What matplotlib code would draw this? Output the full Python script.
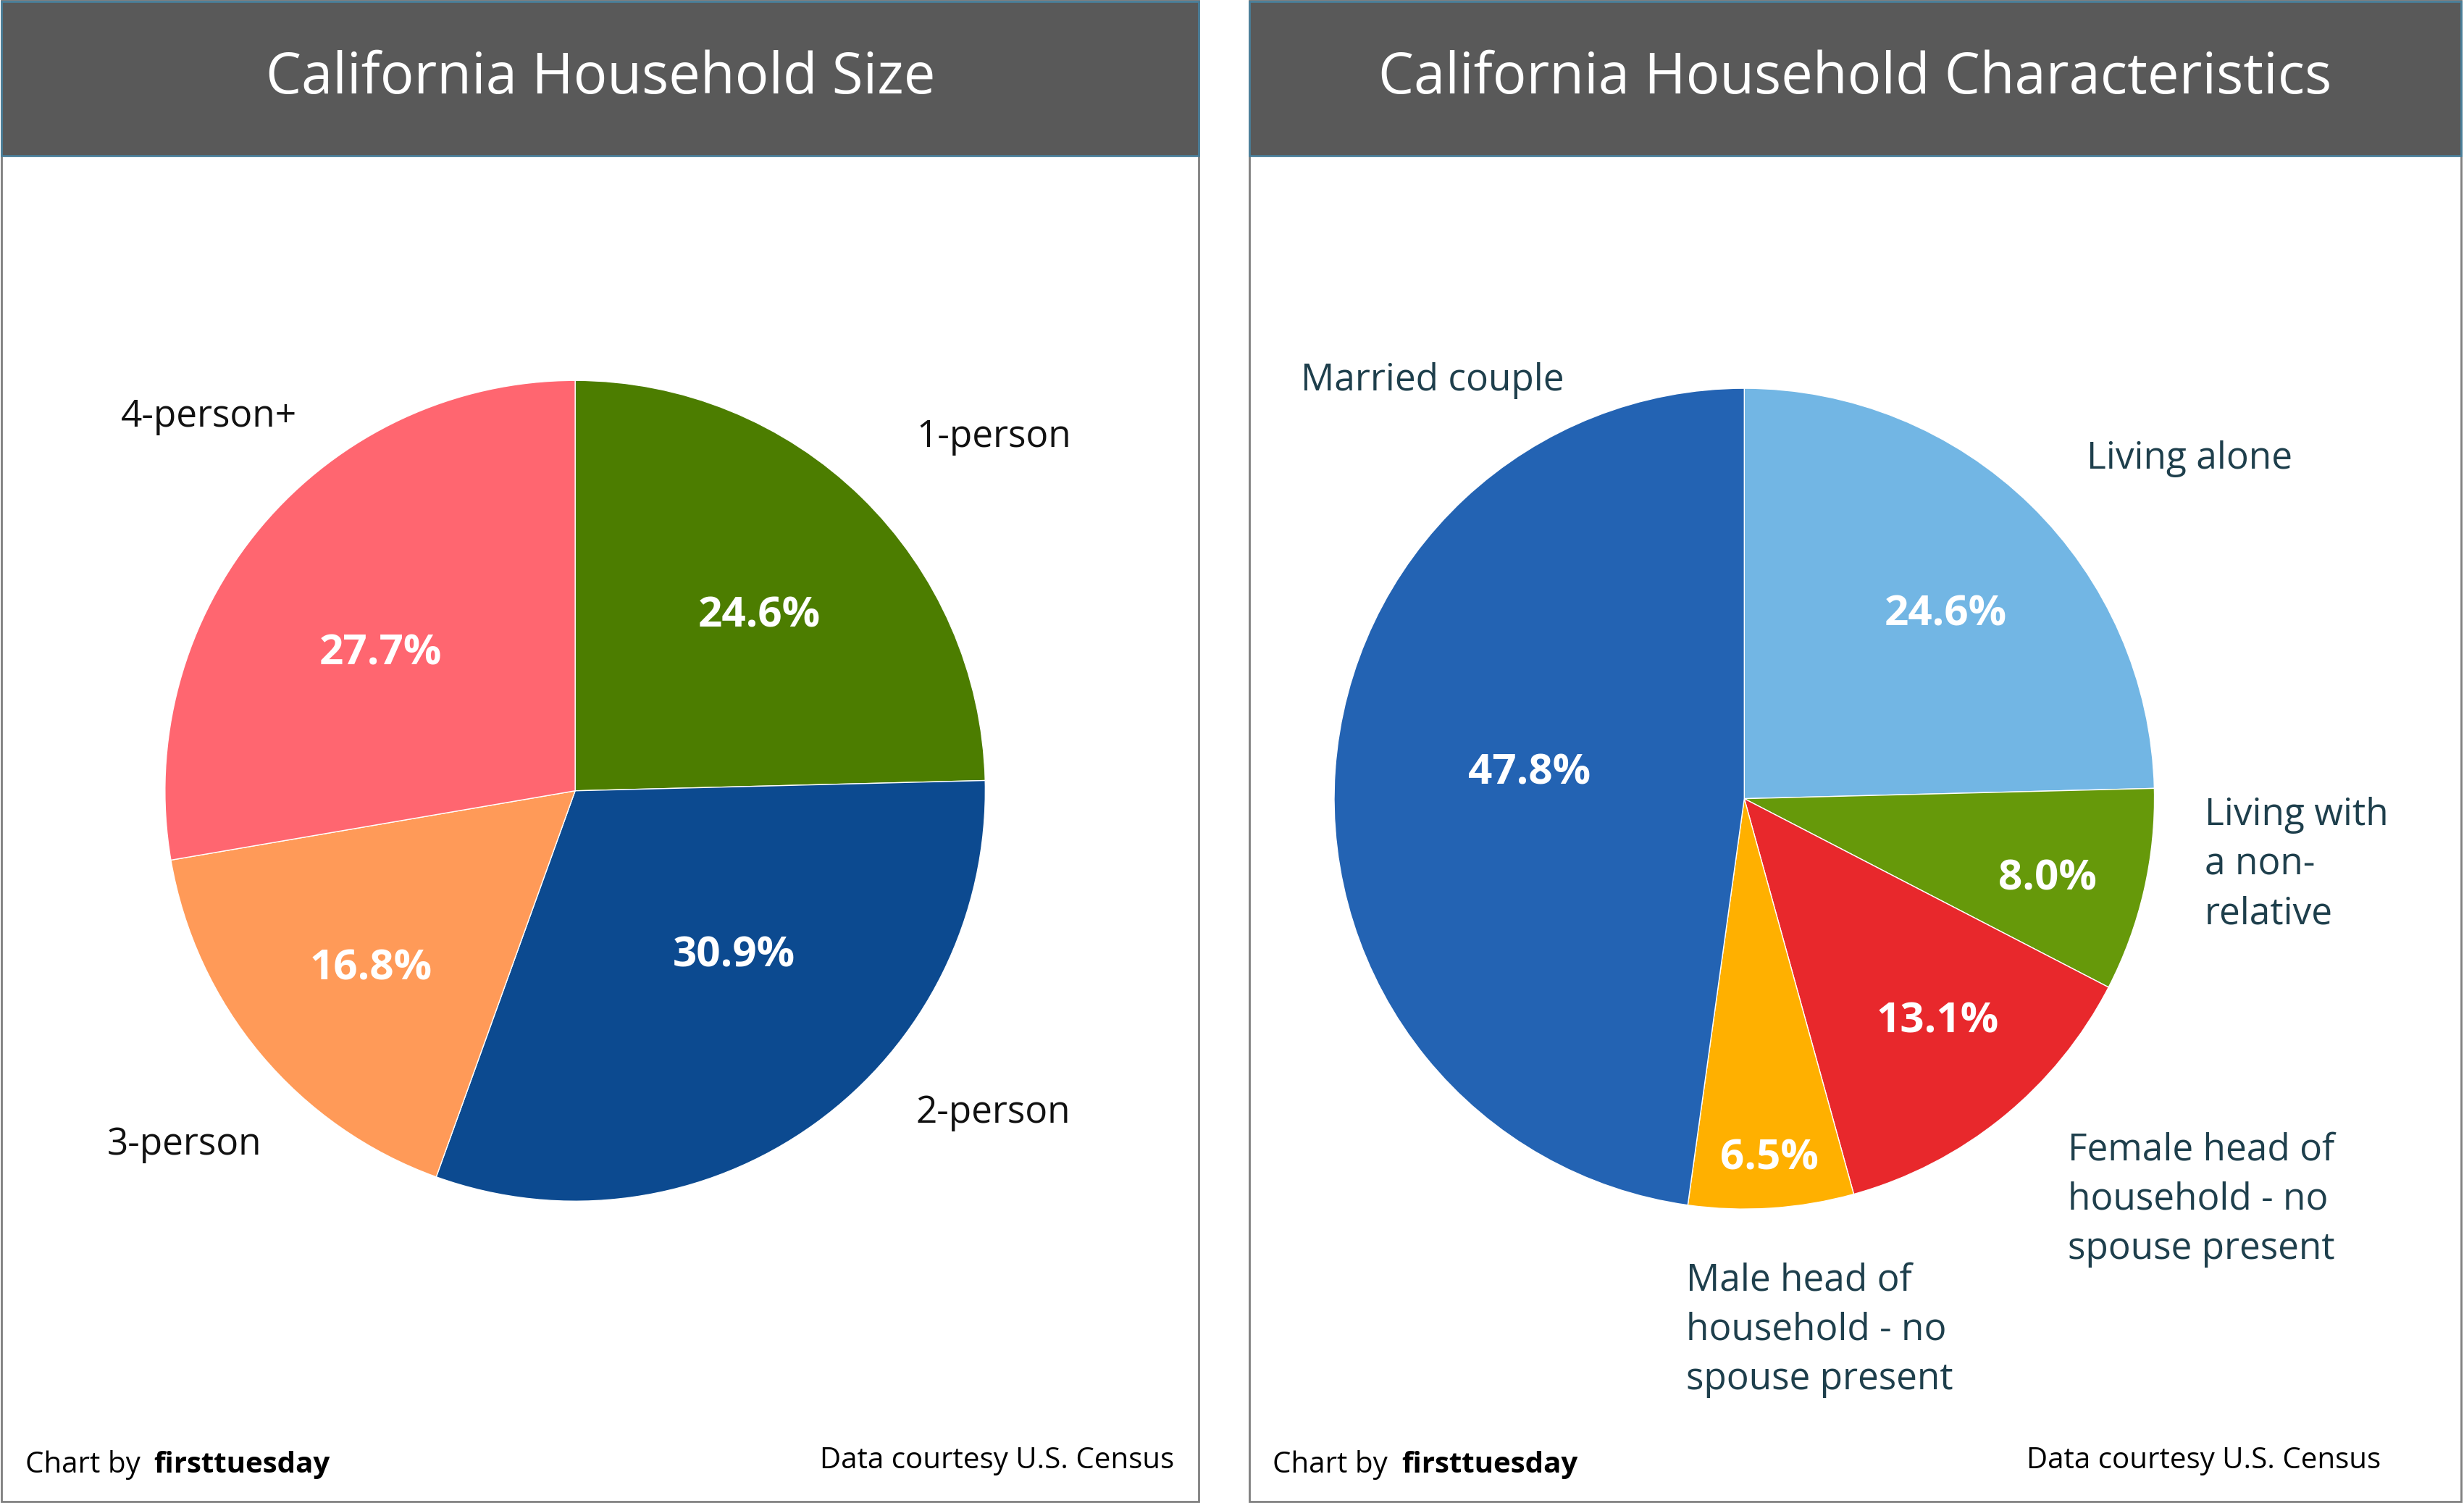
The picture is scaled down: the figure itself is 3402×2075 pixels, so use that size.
import matplotlib.pyplot as plt
from matplotlib.patches import Rectangle

plt.rcParams['font.family'] = ['Open Sans', 'DejaVu Sans']

W, H = 1568.0, 956.0

size_labels = ['1-person', '2-person', '3-person', '4-person+']
size_values = [24.6, 30.9, 16.8, 27.7]
size_colors = ['#4c7d00', '#0c4a90', '#ff9a58', '#ff6670']

char_labels = ['Living alone', 'Living with\na non-\nrelative', 'Female head of\nhousehold - no\nspouse present',
               'Male head of\nhousehold - no\nspouse present', 'Married couple']
char_values = [24.6, 8.0, 13.1, 6.5, 47.8]
char_colors = ['#72b6e4', '#66990a', '#e8282c', '#ffb000', '#2363b3']


def px(x, y):
    return x / W, 1 - y / H


def panel(fig, x0, x1, title, credit_x):
    fig.patches.append(Rectangle(px(x0, 955), (x1 - x0) / W, 955 / H, transform=fig.transFigure,
                                 facecolor='white', edgecolor='#7f7f7f', linewidth=2, zorder=-2))
    fig.patches.append(Rectangle(px(x0, 99), (x1 - x0) / W, 98 / H, transform=fig.transFigure,
                                 facecolor='#595959', edgecolor='#4a7f9a', linewidth=2, zorder=-1))
    fig.text(*px((x0 + x1) / 2, 50), title, color='white', fontsize=56, ha='center', va='center')
    fig.text(*px(x0 + 15, 932), 'Chart by', fontsize=29, ha='left', va='center')
    fig.text(*px(x0 + 97, 932), 'firsttuesday', fontsize=29, ha='left', va='center', fontweight='bold')
    fig.text(*px(credit_x, 929), 'Data courtesy U.S. Census', fontsize=29, ha='right', va='center')


def pie(fig, cx, cy, r, values, colors, pct_pos):
    ax = fig.add_axes([(cx - r) / W, (H - cy - r) / H, 2 * r / W, 2 * r / H])
    ax.pie(values, colors=colors, startangle=90, counterclock=False,
           wedgeprops=dict(edgecolor='white', linewidth=1))
    ax.set_xlim(-1, 1)
    ax.set_ylim(-1, 1)
    ax.set_aspect('auto')
    ax.axis('off')
    for v, (x, y) in zip(values, pct_pos):
        fig.text(*px(x, y), f'{v:.1f}%', color='white', fontsize=42, fontweight='bold',
                 ha='center', va='center')


fig = plt.figure(figsize=(34.02, 20.75), dpi=100)

panel(fig, 1, 763, 'California Household Size', 747)
panel(fig, 795, 1566, 'California Household Characteristics', 1515)

pie(fig, 366, 503, 261, size_values, size_colors,
    [(483, 392), (467, 608), (236, 616), (242, 416)])
for lab, (x, y, ha) in zip(size_labels, [(583, 278, 'left'), (583, 708, 'left'),
                                         (68, 728, 'left'), (77, 265, 'left')]):
    fig.text(*px(x, y), lab, fontsize=37, ha=ha, va='center', color='#111111')

pie(fig, 1110, 508, 261, char_values, char_colors,
    [(1238, 391), (1303, 559), (1233, 650), (1126, 737), (973, 492)])
for lab, (x, y) in zip(char_labels, [(1328, 292), (1403, 550), (1316, 763),
                                     (1073, 846), (828, 242)]):
    fig.text(*px(x, y), lab, fontsize=37, ha='left', va='center', color='#1e3f4c',
             linespacing=1.45)

fig.savefig('out.png', dpi=100)
